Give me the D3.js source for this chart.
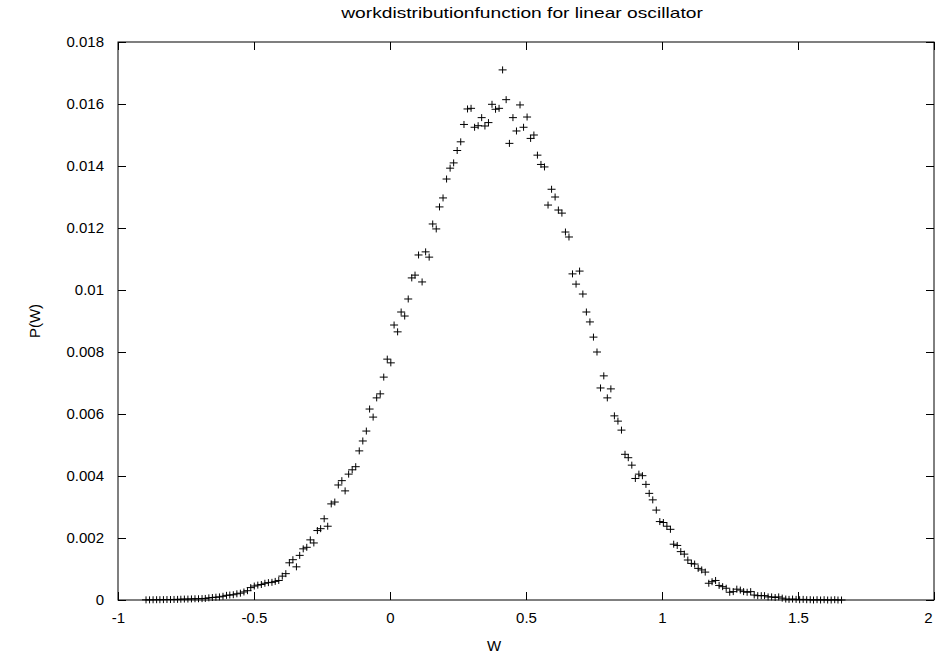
<!DOCTYPE html>
<meta charset="utf-8">
<style>
  body{ margin:0; background:#fff; }
  text{ font-family: "Liberation Sans", Arial, sans-serif; fill:#000; }
  .tick text{ font-size:15px; }
  .title, .axis-label{ font-size:15px; }
</style>
<script src="https://d3js.org/d3.v7.min.js"></script>
<div id="chart"></div>
<script>
  // bin centres (W) and measured P(W)
  const wValues = [
    -0.897,-0.884,-0.871,-0.858,-0.846,-0.833,-0.820,-0.807,-0.794,-0.781,
    -0.769,-0.756,-0.743,-0.730,-0.717,-0.704,-0.691,-0.679,-0.666,-0.653,
    -0.640,-0.627,-0.614,-0.601,-0.589,-0.576,-0.563,-0.550,-0.537,-0.524,
    -0.512,-0.499,-0.486,-0.473,-0.460,-0.447,-0.434,-0.422,-0.409,-0.396,
    -0.383,-0.370,-0.357,-0.344,-0.332,-0.319,-0.306,-0.293,-0.280,-0.267,
    -0.255,-0.242,-0.229,-0.216,-0.203,-0.190,-0.177,-0.165,-0.152,-0.139,
    -0.126,-0.113,-0.100,-0.087,-0.075,-0.062,-0.049,-0.036,-0.023,-0.010,
    0.003,0.015,0.028,0.041,0.054,0.067,0.080,0.092,0.105,0.118,
    0.131,0.144,0.157,0.170,0.182,0.195,0.208,0.221,0.234,0.247,
    0.260,0.272,0.285,0.298,0.311,0.324,0.337,0.349,0.362,0.375,
    0.388,0.401,0.414,0.427,0.439,0.452,0.465,0.478,0.491,0.504,
    0.517,0.529,0.542,0.555,0.568,0.581,0.594,0.607,0.619,0.632,
    0.645,0.658,0.671,0.684,0.697,0.709,0.722,0.735,0.748,0.761,
    0.774,0.786,0.799,0.812,0.825,0.838,0.851,0.864,0.876,0.889,
    0.902,0.915,0.928,0.941,0.953,0.966,0.979,0.992,1.005,1.018,
    1.031,1.043,1.056,1.069,1.082,1.095,1.108,1.120,1.133,1.146,
    1.159,1.172,1.184,1.197,1.210,1.223,1.236,1.249,1.262,1.275,
    1.288,1.300,1.313,1.326,1.339,1.352,1.365,1.377,1.390,1.403,
    1.416,1.429,1.442,1.455,1.467,1.480,1.493,1.506,1.519,1.532,
    1.545,1.557,1.570,1.583,1.596,1.609,1.622,1.635,1.647,1.660
  ];
  const pValues = [
    0.000005,0.000005,0.000008,0.00001,0.00001,0.000012,0.000015,0.000015,0.000018,0.00002,
    0.000025,0.00003,0.00003,0.000035,0.00004,0.00004,0.000045,0.00005,0.00007,0.00008,
    0.00009,0.0001,0.00012,0.00015,0.00016,0.00017,0.0002,0.00022,0.00026,0.0003,
    0.0004,0.00045,0.00048,0.0005,0.00054,0.00056,0.00057,0.0006,0.00063,0.00077,
    0.00085,0.0012,0.0013,0.00107,0.00144,0.00165,0.0017,0.00194,0.00184,0.00224,
    0.0023,0.00262,0.00238,0.0031,0.00316,0.00371,0.00385,0.00352,0.00406,0.0042,
    0.0043,0.00481,0.00513,0.00545,0.00616,0.0059,0.00652,0.00665,0.00719,0.00777,
    0.00765,0.00887,0.00865,0.00929,0.00916,0.00971,0.01039,0.01048,0.01113,0.01026,
    0.01123,0.01106,0.01213,0.01197,0.01268,0.01297,0.01358,0.01393,0.0141,0.0145,
    0.01478,0.01534,0.01584,0.01586,0.01525,0.0153,0.01556,0.01529,0.0154,0.01599,
    0.01583,0.01586,0.0171,0.01614,0.01473,0.01556,0.01513,0.01597,0.01525,0.01558,
    0.01489,0.015,0.01435,0.01405,0.01397,0.01274,0.01325,0.013,0.01258,0.01248,
    0.01187,0.01171,0.01052,0.01019,0.01061,0.00987,0.00929,0.00897,0.00848,0.008,
    0.00684,0.00723,0.00652,0.00681,0.00594,0.00577,0.00548,0.0047,0.00459,0.00435,
    0.00392,0.00406,0.00401,0.00373,0.00344,0.00323,0.0029,0.00253,0.0025,0.00238,
    0.00228,0.0018,0.00176,0.00156,0.00148,0.00129,0.00118,0.00116,0.00102,0.00097,
    0.0009,0.00054,0.00059,0.00063,0.00047,0.00043,0.00038,0.00025,0.00027,0.00035,
    0.00032,0.00027,0.00025,0.00027,0.00016,0.00014,0.00014,0.00014,0.0001,0.0001,
    0.00008,0.0001,0.00006,0.00003,0.00002,0.00003,0.00002,0.00001,0.00002,0.00001,
    0.00001,0,0.00001,0,0.00001,0,0,0.00001,0,0
  ];
  const xTicks = [-1, -0.5, 0, 0.5, 1, 1.5, 2];
  const yTicks = [0, 0.002, 0.004, 0.006, 0.008, 0.01, 0.012, 0.014, 0.016, 0.018];

  const W = 935, H = 655;
  const margin = {top: 42, right: 1, bottom: 55, left: 118};
  const width = W - margin.left - margin.right,
        height = H - margin.top - margin.bottom;

  const svg = d3.select("#chart").append("svg")
      .attr("width", W).attr("height", H);
  const g = svg.append("g")
      .attr("transform", `translate(${margin.left},${margin.top})`);

  const x = d3.scaleLinear().domain([-1, 2]).range([0, width]);
  const y = d3.scaleLinear().domain([0, 0.018]).range([height, 0]);

  const tickLen = 8;
  // bottom axis (ticks pointing inward)
  const xAxis = g.append("g")
      .attr("transform", `translate(0,${height})`)
      .call(d3.axisBottom(x).tickValues(xTicks).tickSize(-tickLen).tickPadding(12)
        .tickFormat(d => String(d)));
  xAxis.selectAll(".tick text").attr("dy", "0.71em");
  // keep the last label inside the page
  xAxis.selectAll(".tick").filter(d => d === 2).select("text")
      .attr("text-anchor", "end").attr("x", -2);

  const yAxis = g.append("g")
      .call(d3.axisLeft(y).tickValues(yTicks).tickSize(-tickLen).tickPadding(14)
        .tickFormat(d => String(+d.toFixed(3))));

  // mirrored ticks on top and right
  g.append("g")
      .call(d3.axisTop(x).tickValues(xTicks).tickSize(-tickLen).tickFormat(""));
  g.append("g")
      .attr("transform", `translate(${width},0)`)
      .call(d3.axisRight(y).tickValues(yTicks).tickSize(-tickLen).tickFormat(""));

  g.selectAll(".domain").remove();
  g.selectAll(".tick line").attr("stroke", "#000");

  // frame
  g.append("rect")
      .attr("x", 0).attr("y", 0)
      .attr("width", width).attr("height", height)
      .attr("fill", "none").attr("stroke", "#000").attr("stroke-width", 1);

  // data points as "+" markers
  const data = wValues.map((w, i) => ({w: w, p: pValues[i]}));
  g.append("g").selectAll("path")
      .data(data)
      .join("path")
      .attr("transform", d => `translate(${x(d.w)},${y(d.p)})`)
      .attr("d", "M-4,0H4M0,-3.5V3.5")
      .attr("stroke", "#000")
      .attr("stroke-width", 1)
      .attr("fill", "none");

  // title (stretched sideways like the original) and axis labels
  svg.append("text")
      .attr("class", "title")
      .attr("transform", `translate(${margin.left + width / 2 - 4},18) scale(1.28,1)`)
      .attr("text-anchor", "middle")
      .text("workdistributionfunction for linear oscillator");

  svg.append("text")
      .attr("class", "axis-label")
      .attr("x", margin.left + width / 2 - 32)
      .attr("y", 651)
      .attr("text-anchor", "middle")
      .text("W");

  svg.append("text")
      .attr("class", "axis-label")
      .attr("transform", `translate(40,${margin.top + height / 2}) rotate(-90)`)
      .attr("text-anchor", "middle")
      .text("P(W)");
</script>
